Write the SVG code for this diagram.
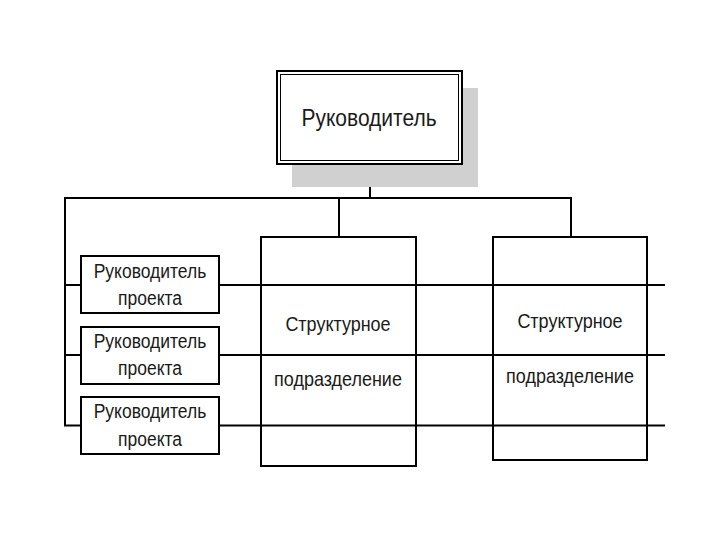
<svg xmlns="http://www.w3.org/2000/svg" width="720" height="540" viewBox="0 0 720 540">
<style>
.b{fill:#fff;stroke:#000;stroke-width:2}
.o{fill:none;stroke:#000;stroke-width:2}
.l{stroke:#000;stroke-width:2;fill:none}
.t{font-family:"Liberation Sans",Arial,sans-serif;fill:#1a1a1a;text-anchor:middle}
</style>
<rect width="720" height="540" fill="#fff"/>
<g id="connectors">
<line class="l" x1="370" y1="164" x2="370" y2="198"/>
<line class="l" x1="64" y1="198" x2="572" y2="198"/>
<line class="l" x1="65" y1="197" x2="65" y2="426"/>
<line class="l" x1="339" y1="198" x2="339" y2="237"/>
<line class="l" x1="571" y1="198" x2="571" y2="237"/>
<line class="l" x1="64" y1="285" x2="665" y2="285"/>
<line class="l" x1="64" y1="355" x2="665" y2="355"/>
<line class="l" x1="64" y1="425.5" x2="665" y2="425.5" stroke-width="1.5"/>
</g>
<g id="head">
<rect x="292" y="88" width="186" height="99" fill="#d0d0d0"/>
<rect class="b" x="277" y="71" width="185" height="93"/>
<rect x="280.5" y="74.5" width="178" height="86" fill="none" stroke="#000" stroke-width="1"/>
<text class="t" font-size="21" transform="translate(369 126) scale(1 1.15)">Руководитель</text>
</g>
<g id="dept1">
<rect class="o" x="261" y="237" width="155" height="229"/>
<text class="t" font-size="18" transform="translate(338 331) scale(1 1.15)">Структурное</text>
<text class="t" font-size="18" transform="translate(338 386) scale(1 1.15)">подразделение</text>
</g>
<g id="dept2">
<rect class="o" x="493" y="237" width="154" height="223"/>
<text class="t" font-size="18" transform="translate(570 328) scale(1 1.15)">Структурное</text>
<text class="t" font-size="18" transform="translate(570 383) scale(1 1.15)">подразделение</text>
</g>
<g id="pm1">
<rect class="b" x="81" y="256" width="138" height="57"/>
<text class="t" font-size="17.5" transform="translate(150 278) scale(1 1.15)">Руководитель</text>
<text class="t" font-size="17.5" transform="translate(150 305) scale(1 1.15)">проекта</text>
</g>
<g id="pm2">
<rect class="b" x="81" y="327" width="138" height="57"/>
<text class="t" font-size="17.5" transform="translate(150 348) scale(1 1.15)">Руководитель</text>
<text class="t" font-size="17.5" transform="translate(150 375) scale(1 1.15)">проекта</text>
</g>
<g id="pm3">
<rect class="b" x="81" y="397" width="138" height="57"/>
<text class="t" font-size="17.5" transform="translate(150 418) scale(1 1.15)">Руководитель</text>
<text class="t" font-size="17.5" transform="translate(150 446) scale(1 1.15)">проекта</text>
</g>
</svg>
